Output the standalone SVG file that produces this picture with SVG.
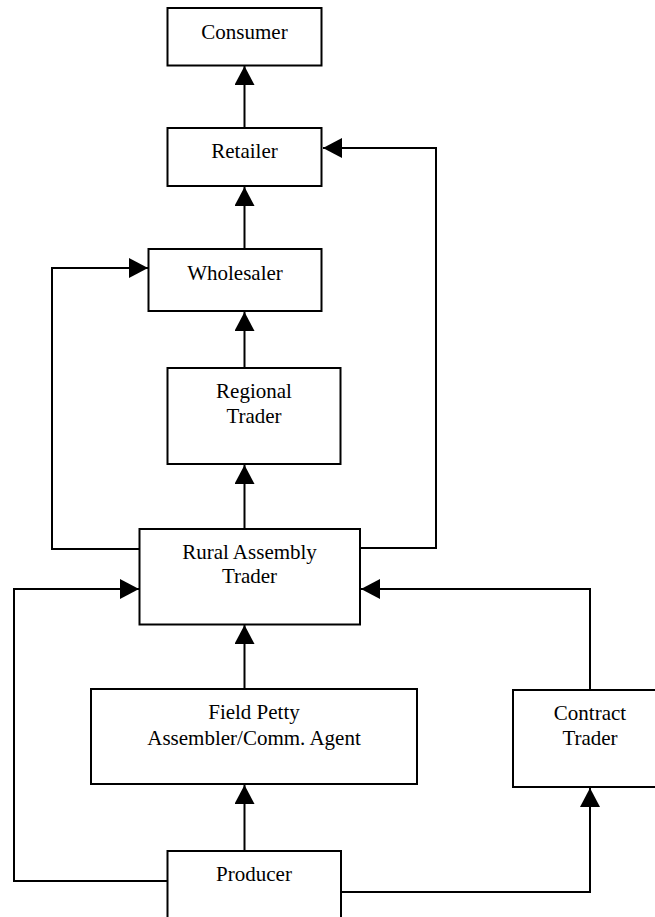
<svg xmlns="http://www.w3.org/2000/svg" width="655" height="917" viewBox="0 0 655 917">
<style>
.box{fill:#fff;stroke:#000;stroke-width:2}
.lbl{font-family:"Liberation Serif","Times New Roman",serif;font-size:21px;fill:#000;text-anchor:middle}
.con{fill:none;stroke:#000;stroke-width:2;marker-end:url(#ah)}
</style>
<defs>
<marker id="ah" markerUnits="userSpaceOnUse" markerWidth="20" markerHeight="20" viewBox="0 0 20 20" refX="19" refY="10" orient="auto">
<path d="M0,0 L19,10 L0,20 z" fill="#000"/>
</marker>
</defs>
<rect width="655" height="917" fill="#fff"/>
<g id="connectors">
<path class="con" d="M244.5,128 V66"/>
<path class="con" d="M244.5,249 V187"/>
<path class="con" d="M244.5,368 V312"/>
<path class="con" d="M244.5,529 V465"/>
<path class="con" d="M139.5,549 H52 V268 H148"/>
<path class="con" d="M360,548 H436 V148 H323"/>
<path class="con" d="M244.5,689 V625"/>
<path class="con" d="M167.5,881 H14 V589 H139"/>
<path class="con" d="M590,690 V589 H361"/>
<path class="con" d="M244.5,851 V785"/>
<path class="con" d="M341,892 H590 V788"/>
</g>
<g id="consumer"><rect class="box" x="167.5" y="8" width="154" height="57.5"/><text class="lbl" x="244.5" y="39">Consumer</text></g>
<g id="retailer"><rect class="box" x="167.5" y="128" width="154" height="58"/><text class="lbl" x="244.5" y="158">Retailer</text></g>
<g id="wholesaler"><rect class="box" x="148.5" y="249" width="173" height="62"/><text class="lbl" x="235" y="280">Wholesaler</text></g>
<g id="regional"><rect class="box" x="167.5" y="368" width="173" height="96"/><text class="lbl" x="254" y="398">Regional</text><text class="lbl" x="254" y="423">Trader</text></g>
<g id="rural"><rect class="box" x="139.5" y="529" width="220.5" height="95.5"/><text class="lbl" x="249.5" y="559">Rural Assembly</text><text class="lbl" x="249.5" y="583">Trader</text></g>
<g id="field"><rect class="box" x="91" y="689" width="326" height="95"/><text class="lbl" x="254" y="719">Field Petty</text><text class="lbl" x="254" y="745">Assembler/Comm. Agent</text></g>
<g id="contract"><rect class="box" x="513" y="690" width="150" height="97"/><text class="lbl" x="590" y="720">Contract</text><text class="lbl" x="590" y="745">Trader</text></g>
<g id="producer"><rect class="box" x="167.5" y="851" width="173.5" height="100"/><text class="lbl" x="254" y="881">Producer</text></g>
</svg>
